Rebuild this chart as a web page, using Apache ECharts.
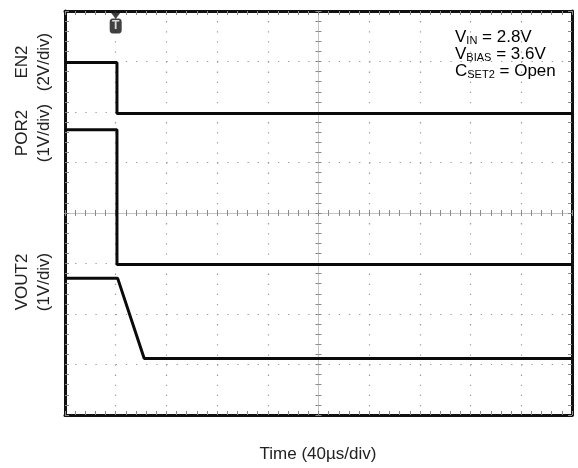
<!DOCTYPE html>
<html>
<head>
<meta charset="utf-8">
<script src="https://cdn.jsdelivr.net/npm/echarts@6/dist/echarts.min.js"></script>
<style>html,body{margin:0;padding:0;background:#fff}#c{width:578px;height:468px}</style>
</head>
<body>
<div id="c"></div>
<script>
// Time axis (µs), 40 µs/div, 10 divisions
const timeMin = 0, timeMax = 400, timeStep = 40;
// Vertical screen divisions (8)
const divMin = 0, divMax = 8, divStep = 1;
// Traces: [time µs, screen divisions]
const en2Level = [[0, 6.98], [41, 6.98], [41, 5.97], [400, 5.97]];
const por2Level = [[0, 5.65], [41, 5.65], [41, 2.98], [400, 2.98]];
const vout2Level = [[0, 2.71], [41.5, 2.71], [62.5, 1.12], [400, 1.12]];
const triggerTime = [40];
const channelLabels = ['EN2', 'POR2', 'VOUT2'];
const scaleLabels = ['(2V/div)', '(1V/div)', '(1V/div)'];
const xAxisTitle = 'Time (40µs/div)';

const chart = echarts.init(document.getElementById('c'), null, {renderer: 'canvas'});
const font = 'Liberation Sans, Arial, sans-serif';
const tickStyle = {color: '#8a8a8a', width: 1};
function borderAxis(pos, isX) {
  return {
    type: 'value', position: pos,
    min: isX ? timeMin : divMin, max: isX ? timeMax : divMax, interval: isX ? timeStep : divStep,
    axisLine: {show: true, onZero: false, lineStyle: {color: '#111', width: 3}},
    axisTick: {show: true, inside: true, length: 4, lineStyle: tickStyle},
    minorTick: {show: true, splitNumber: 5, length: 4, lineStyle: tickStyle},
    axisLabel: {show: false},
    splitLine: {show: false}
  };
}
function centerAxis(isX, inside, zeroIdx) {
  return {
    type: 'value', position: isX ? 'bottom' : 'left',
    min: isX ? timeMin : divMin, max: isX ? timeMax : divMax, interval: isX ? timeStep : divStep,
    axisLine: {show: true, onZero: true, onZeroAxisIndex: zeroIdx, lineStyle: {color: '#c4c4c4', width: 1}},
    axisTick: {show: true, inside: inside, length: 3, lineStyle: tickStyle},
    minorTick: {show: true, splitNumber: 5, length: 3, lineStyle: tickStyle},
    axisLabel: {show: false},
    splitLine: {show: false}
  };
}
const xBottom = borderAxis('bottom', true);
xBottom.splitLine = {show: true, lineStyle: {color: '#9a9a9a', width: 1.2, type: [1.3, 8.8]}};
const yLeft = borderAxis('left', false);
yLeft.splitLine = {show: true, lineStyle: {color: '#9a9a9a', width: 1.2, type: [1.3, 8.84]}};

const xAxes = [
  xBottom,
  borderAxis('top', true),
  centerAxis(true, true, 2),
  centerAxis(true, false, 2),
  {type: 'value', show: false, min: -200, max: 200}
];
const yAxes = [
  yLeft,
  borderAxis('right', false),
  {type: 'value', show: false, min: -4, max: 4},
  centerAxis(false, true, 4),
  centerAxis(false, false, 4)
];

function trace(data, w) {
  return {type: 'line', data: data, xAxisIndex: 0, yAxisIndex: 0, symbol: 'none',
    lineStyle: {color: '#0a0a0a', width: w}, z: 5, silent: true};
}

const labelGraphics = [];
const labelY = [62, 133, 282];
channelLabels.forEach(function (t, i) {
  labelGraphics.push({type: 'text', x: 22, y: labelY[i], rotation: Math.PI / 2,
    style: {text: t, font: '17px ' + font, fill: '#222', align: 'center', verticalAlign: 'middle'}});
  labelGraphics.push({type: 'text', x: 44, y: labelY[i], rotation: Math.PI / 2,
    style: {text: scaleLabels[i], font: '17px ' + font, fill: '#222', align: 'center', verticalAlign: 'middle'}});
});
const rich = {
  m: {fontSize: 17, fontFamily: font, color: '#222', lineHeight: 17, verticalAlign: 'middle'},
  s: {fontSize: 11, fontFamily: font, color: '#222', lineHeight: 11, verticalAlign: 'bottom'}
};
labelGraphics.push({type: 'text', left: 455, top: 29,
  style: {text: '{m|V}{s|IN}{m| = 2.8V}\n{m|V}{s|BIAS}{m| = 3.6V}\n{m|C}{s|SET2}{m| = Open}', rich: rich}});
labelGraphics.push({type: 'text', x: 318, y: 454,
  style: {text: xAxisTitle, font: '17px ' + font, fill: '#222', align: 'center', verticalAlign: 'middle'}});

chart.setOption({
  animation: false,
  backgroundColor: '#fff',
  grid: {left: 65, right: 6, top: 11, bottom: 53, containLabel: false},
  xAxis: xAxes,
  yAxis: yAxes,
  series: [
    trace(en2Level, 3),
    trace(por2Level, 3),
    trace(vout2Level, 3),
    {type: 'scatter', xAxisIndex: 0, yAxisIndex: 0, silent: true, z: 8,
      data: triggerTime.map(function (t) { return [t, divMax]; }),
      symbol: 'triangle', symbolRotate: 180, symbolSize: [12, 8], symbolOffset: [0, 4],
      itemStyle: {color: '#111'}},
    {type: 'scatter', xAxisIndex: 0, yAxisIndex: 0, silent: true, z: 8,
      data: triggerTime.map(function (t) { return [t, divMax]; }),
      symbol: 'roundRect', symbolSize: [12, 15], symbolOffset: [0, 15],
      itemStyle: {color: '#111'},
      label: {show: true, position: 'inside', formatter: 'T', color: '#fff', fontSize: 12, fontWeight: 'bold', fontFamily: font}}
  ],
  graphic: labelGraphics
});
</script>
</body>
</html>
